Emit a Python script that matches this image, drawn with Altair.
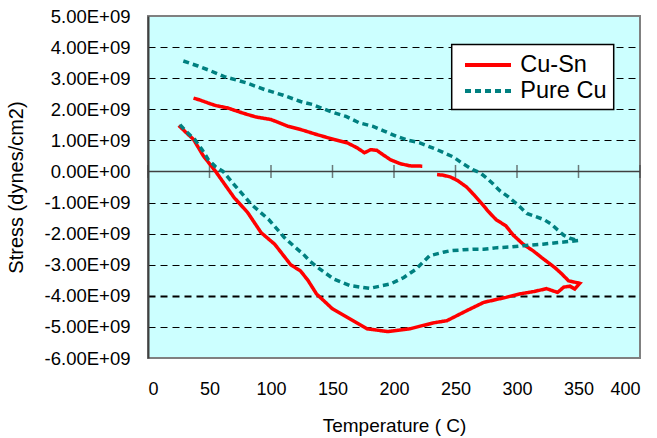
import altair as alt
import pandas as pd

# ---- data (stress in units of 1e9 dynes/cm2, temperature in C) ----
series_names = ["Cu-Sn", "Pure Cu"]

# Cu-Sn: heating branch followed by cooling branch (continuous path)
cusn_a_T = [25, 31, 37, 45, 55, 63, 70, 81, 92, 103, 116, 124, 130, 137, 150, 164, 178, 195, 213, 232,
            243, 259, 273, 291, 302, 314, 324, 333, 338, 343, 347, 351,
            348, 342, 336, 331, 326, 320, 313, 305, 297, 291, 283, 277, 271, 265, 259, 252, 246, 240, 235]
cusn_a_S = [1.48, 1.25, 1.03, 0.5, 0.0, -0.45, -0.84, -1.32, -1.97, -2.34, -3.0, -3.2, -3.5, -3.94, -4.42, -4.74, -5.06, -5.15, -5.06, -4.87,
            -4.80, -4.48, -4.21, -4.05, -3.94, -3.86, -3.77, -3.89, -3.72, -3.69, -3.78, -3.60,
            -3.57, -3.52, -3.28, -3.10, -2.95, -2.77, -2.55, -2.34, -2.05, -1.75, -1.55, -1.30, -1.02, -0.75, -0.50, -0.30, -0.18, -0.12, -0.10]
# Cu-Sn: cooling branch after the gap
cusn_b_T = [223, 213, 205, 197, 191, 186, 181, 176, 170, 162, 151, 137, 124, 114, 100, 88, 81, 73, 65, 55, 49, 42, 37]
cusn_b_S = [0.17, 0.18, 0.25, 0.38, 0.54, 0.68, 0.70, 0.60, 0.76, 0.92, 1.03, 1.19, 1.35, 1.45, 1.67, 1.75, 1.83, 1.93, 2.04, 2.12, 2.20, 2.30, 2.36]

# Pure Cu: heating then cooling
cu_T = [26, 32, 38, 44, 49, 55, 61, 70, 84, 98, 111, 119, 126, 132, 138, 151, 164, 180, 197, 208, 218, 229, 240, 246, 256, 265, 273, 284, 295, 305, 315, 321, 330, 338, 350,
        343, 338, 333, 328, 322, 315, 308, 300, 293, 286, 280, 275, 270, 264, 256, 248, 235, 221, 212, 202, 192, 183, 172, 161, 148, 134, 124, 110, 95, 80, 62, 50, 40, 26]
cu_S = [1.50, 1.25, 1.03, 0.70, 0.38, 0.15, 0.0, -0.42, -1.06, -1.54, -2.13, -2.42, -2.65, -2.90, -3.09, -3.46, -3.67, -3.76, -3.62, -3.41, -3.14, -2.71, -2.60, -2.55, -2.52, -2.50, -2.50, -2.45, -2.43, -2.39, -2.36, -2.34, -2.30, -2.27, -2.22,
        -2.15, -2.05, -1.88, -1.70, -1.55, -1.45, -1.35, -1.05, -0.82, -0.62, -0.38, -0.20, -0.04, 0.06, 0.25, 0.47, 0.70, 0.92, 1.00, 1.13, 1.30, 1.45, 1.56, 1.77, 1.93, 2.15, 2.25, 2.45, 2.63, 2.85, 3.05, 3.25, 3.40, 3.59]

x_ticks = [0, 50, 100, 150, 200, 250, 300, 350, 400]
y_ticks = [-6, -5, -4, -3, -2, -1, 0, 1, 2, 3, 4, 5]

rows = []
def add(series, seg, T, S):
    for i, (t, s) in enumerate(zip(T, S)):
        rows.append({"series": series, "seg": seg, "idx": i, "T": t, "S": s})

add("Cu-Sn", "a", cusn_a_T, cusn_a_S)
add("Cu-Sn", "b", cusn_b_T, cusn_b_S)
add("Pure Cu", "c", cu_T, cu_S)
df = pd.DataFrame(rows)

FONT = "Liberation Sans"
x_scale = alt.Scale(domain=[0, 400], nice=False, zero=False)
y_scale = alt.Scale(domain=[-6, 5], nice=False, zero=False)

x_axis = alt.Axis(
    values=x_ticks, title="Temperature ( C)", titleFont=FONT, titleFontSize=19,
    titleFontWeight="normal", titleColor="black", titleX=246, titleY=73.7,
    titleBaseline="alphabetic", titleAlign="center",
    labelFont=FONT, labelFontSize=18, labelColor="black", labelPadding=22.5,
    ticks=False, tickSize=0, domain=False, grid=False)
y_axis = alt.Axis(
    values=y_ticks, title="Stress (dynes/cm2)", titleFont=FONT, titleFontSize=20,
    titleFontWeight="normal", titleColor="black", titleAngle=270,
    titleX=-125.5, titleY=171, titleBaseline="alphabetic", titleAlign="center",
    labelExpr="(datum.value < 0 ? '-' : '') + format(abs(datum.value), '.2f') + (datum.value == 0 ? 'E+00' : 'E+09')",
    labelFont=FONT, labelFontSize=18.5, labelColor="black", labelPadding=18,
    ticks=False, tickSize=0, domain=True, domainColor="#404040", domainWidth=2,
    grid=True, gridColor="black", gridDash=[7, 5],
    gridOpacity={"condition": {"test": "datum.value == 0 || datum.value == 5 || datum.value == -6", "value": 0}, "value": 1},
    gridWidth={"condition": {"test": "datum.value == -4", "value": 2}, "value": 1})

legend = alt.Legend(
    title=None, orient="none", legendX=303.7, legendY=28.5,
    fillColor="white", strokeColor="black", padding=7,
    symbolType="M-1,0H3", symbolSize=529, symbolStrokeWidth=4, symbolOffset=4.3,
    labelOffset=30.3, labelFont=FONT, labelFontSize=23.5, labelColor="black",
    rowPadding=1,
)

zero = alt.Chart(pd.DataFrame({"S": [0]})).mark_rule(color="#404040", strokeWidth=1.5).encode(
    y=alt.Y("S:Q", scale=y_scale, axis=y_axis)
)

ticks = alt.Chart(pd.DataFrame({"T": x_ticks, "S": [0] * len(x_ticks)})).mark_tick(
    orient="vertical", size=13, thickness=1.5, color="#404040"
).encode(
    x=alt.X("T:Q", scale=x_scale, axis=x_axis),
    y=alt.Y("S:Q", scale=y_scale, axis=y_axis),
)

lines = alt.Chart(df).mark_line(strokeWidth=3.5, strokeCap="butt").encode(
    x=alt.X("T:Q", scale=x_scale, axis=x_axis),
    y=alt.Y("S:Q", scale=y_scale, axis=y_axis),
    color=alt.Color("series:N", scale=alt.Scale(domain=series_names, range=["#FF0000", "#008080"]), legend=legend),
    strokeDash=alt.StrokeDash("series:N", scale=alt.Scale(domain=series_names, range=[[1, 0], [6, 4]]), legend=legend),
    detail="seg:N",
    order=alt.Order("idx:Q"),
)

chart = alt.layer(zero, ticks, lines).properties(
    width=492, height=342,
    padding={"left": 148, "top": 16, "right": 17, "bottom": 80},
    autosize=alt.AutoSizeParams(type="none"),
    background="white",
).configure_view(
    fill="#CCFFFF", stroke="#808080", strokeWidth=2
).configure_legend(strokeWidth=1.5)

chart.save("out.html", embed_options={"renderer": "svg", "actions": False})
